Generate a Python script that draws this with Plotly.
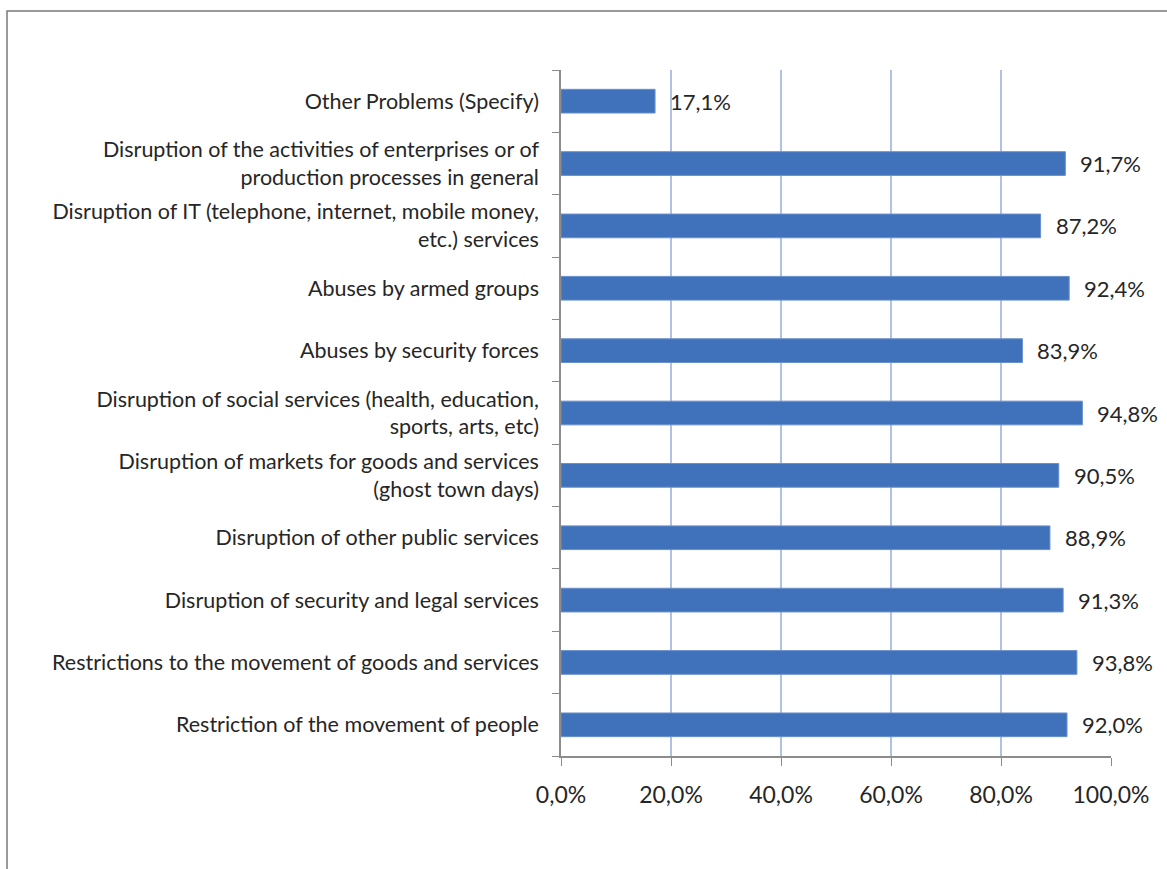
import plotly.graph_objects as go

# Problems reported, listed top to bottom
categories = [
    "Other Problems (Specify)",
    "Disruption of the activities of enterprises or of<br>production processes in general",
    "Disruption of IT (telephone, internet, mobile money,<br>etc.) services",
    "Abuses by armed groups",
    "Abuses by security forces",
    "Disruption of social services (health, education,<br>sports, arts, etc)",
    "Disruption of markets for goods and services<br>(ghost town days)",
    "Disruption of other public services",
    "Disruption of security and legal services",
    "Restrictions to the movement of goods and services",
    "Restriction of the movement of people",
]
shares = [0.171, 0.917, 0.872, 0.924, 0.839, 0.948, 0.905, 0.889, 0.913, 0.938, 0.920]
x_ticks = [0.0, 0.2, 0.4, 0.6, 0.8, 1.0]

FONT = "Lato"
W, H = 1167, 869
L, R, T, B = 561, 56, 70, 113
pw, ph = W - L - R, H - T - B

fig = go.Figure(
    go.Bar(
        x=shares,
        y=categories,
        orientation="h",
        marker=dict(color="#3F72BA", line=dict(color="#6A90CC", width=1)),
        width=0.38,
        hoverinfo="x+y",
    )
)

# value labels to the right of each bar
for cat, v in zip(categories, shares):
    fig.add_annotation(
        x=v, y=cat, xref="x", yref="y",
        text=f"{v * 100:.1f}%".replace(".", ","),
        showarrow=False, xanchor="left", yanchor="middle", xshift=13,
        font=dict(family=FONT, size=22, color="#262626"),
    )

# outer frame around the chart
fig.add_shape(
    type="rect", xref="paper", yref="paper",
    x0=(7 - L) / pw, x1=(1200 - L) / pw,
    y0=(H - B - 900) / ph, y1=(H - B - 11) / ph,
    line=dict(color="#7A7A7A", width=1.5), fillcolor="rgba(0,0,0,0)", layer="below",
)

fig.update_layout(
    width=W, height=H,
    margin=dict(l=L, r=R, t=T, b=B),
    paper_bgcolor="white", plot_bgcolor="white",
    separators=",.",
    showlegend=False,
    font=dict(family=FONT, color="#262626"),
)
fig.update_xaxes(
    range=[0, 1], tickvals=x_ticks, tickformat=".1%",
    showgrid=True, gridcolor="#AFC2E6", gridwidth=1.5,
    showline=True, linecolor="#8C8C8C", linewidth=1.5,
    ticks="outside", ticklen=8, tickcolor="#8C8C8C",
    tickfont=dict(family=FONT, size=23, color="#262626"),
    ticklabelstandoff=10,
    zeroline=False,
)
fig.update_yaxes(
    categoryorder="array", categoryarray=categories[::-1],
    showline=True, linecolor="#8C8C8C", linewidth=1.5,
    ticks="outside", ticklen=7, tickcolor="#8C8C8C", tickson="boundaries",
    tickfont=dict(family=FONT, size=21.5, color="#262626"),
    ticklabelstandoff=16,
    showgrid=False,
)

fig.write_html("out.html")
